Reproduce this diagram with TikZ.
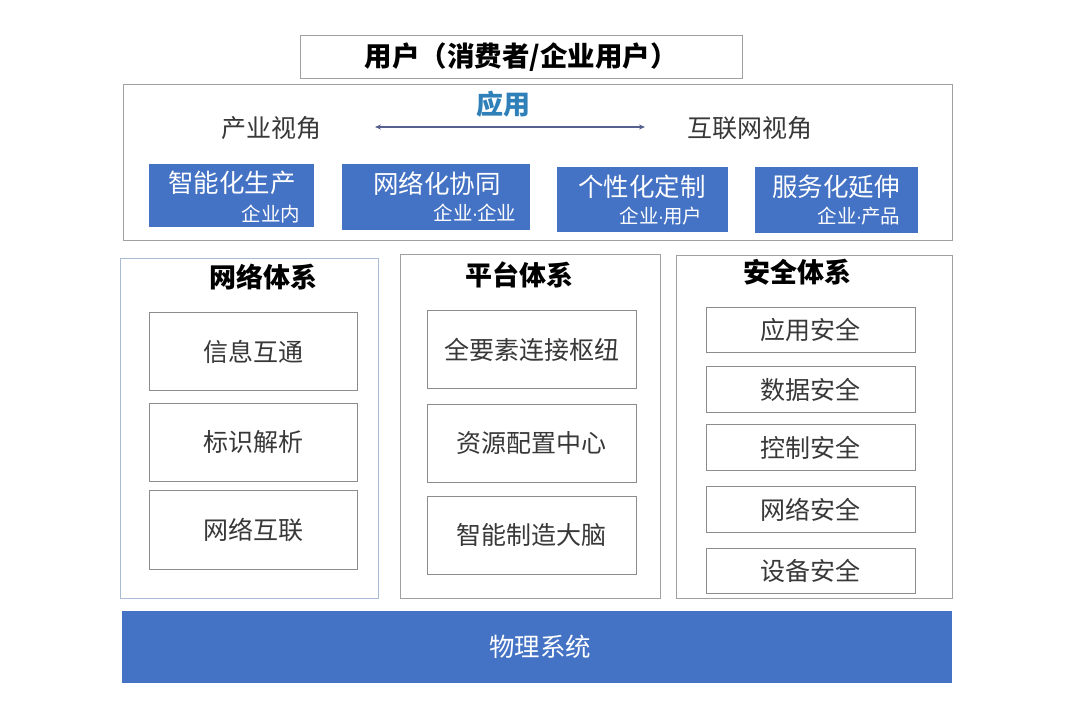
\documentclass[tikz,border=0pt]{standalone}
\usepackage{fontspec}
\setmainfont{Noto Sans CJK SC}
\newfontfamily\latinf{Liberation Sans}
\newcommand{\mdot}{{\latinf\kern-1pt·\kern-1pt}}
\usetikzlibrary{arrows.meta}
\definecolor{bluebox}{HTML}{4472C4}
\definecolor{appblue}{HTML}{2F7FB8}
\definecolor{frameblue}{HTML}{A9BCD4}
\definecolor{framegray}{HTML}{A0A0A0}
\definecolor{innergray}{HTML}{8C8C8C}
\definecolor{txt}{HTML}{383838}
\definecolor{arrowc}{HTML}{55608F}
\tikzset{
  panel/.style={draw=framegray, line width=0.9pt, fill=white},
  panelb/.style={draw=frameblue, line width=0.9pt, fill=white},
  item/.style={draw=innergray, line width=0.9pt, fill=white, text=txt, font=\fontsize{25}{27}\selectfont},
  appbox/.style={fill=bluebox, draw=none},
  apptitle/.style={text=white, font=\fontsize{25.5}{27}\selectfont},
  appsub/.style={text=white, font=\fontsize{19.5}{21}\selectfont},
  header/.style={text=black, font=\bfseries\fontsize{27}{29}\selectfont},
  view/.style={text=txt, font=\fontsize{25}{27}\selectfont},
}
\begin{document}
\begin{tikzpicture}[x=1pt,y=-1pt]
\useasboundingbox (0,0) rectangle (1080,716);
\fill[white] (0,0) rectangle (1080,716);
% user box
\node[panel, minimum width=442pt, minimum height=43pt, anchor=north west, text=black, font=\bfseries\fontsize{27.5}{29}\selectfont] (user) at (300,35) {用户（消费者/企业用户）};
% application panel
\node[panel, minimum width=829pt, minimum height=156pt, anchor=north west] (app) at (123,84) {};
\node[text=appblue, font=\bfseries\fontsize{27}{29}\selectfont] (apptxt) at (503,104) {应用};
\node[view] (ind) at (271,128) {产业视角};
\node[view] (net) at (750,128) {互联网视角};
\coordinate (al) at (375,127);
\coordinate (ar) at (645,127);
\draw[arrowc, line width=1.4pt, {Stealth[length=6pt,width=5pt]}-{Stealth[length=6pt,width=5pt]}] (al) -- (ar);
% blue app boxes
\node[appbox, minimum width=165pt, minimum height=63pt, anchor=north west] (b1) at (149,164) {};
\node[appbox, minimum width=188pt, minimum height=66pt, anchor=north west] (b2) at (342,164) {};
\node[appbox, minimum width=171pt, minimum height=65pt, anchor=north west] (b3) at (557,167) {};
\node[appbox, minimum width=163pt, minimum height=66pt, anchor=north west] (b4) at (755,167) {};
\node[apptitle] (t1) at (232,183) {智能化生产};
\node[appsub, anchor=east] (s1) at (304,214) {企业内};
\node[apptitle] (t2) at (437,184) {网络化协同};
\node[appsub, anchor=east] (s2) at (520,213) {企业\mdot 企业};
\node[apptitle] (t3) at (642,187) {个性化定制};
\node[appsub, anchor=east] (s3) at (706,216) {企业\mdot 用户};
\node[apptitle] (t4) at (836,187) {服务化延伸};
\node[appsub, anchor=east] (s4) at (904,216) {企业\mdot 产品};
% three columns
\node[panelb, minimum width=258pt, minimum height=340pt, anchor=north west] (colA) at (120,258) {};
\node[panel, minimum width=260pt, minimum height=344pt, anchor=north west] (colB) at (400,254) {};
\node[panel, minimum width=276pt, minimum height=343pt, anchor=north west] (colC) at (676,255) {};
\node[header] (hA) at (263,277) {网络体系};
\node[header] (hB) at (519,275) {平台体系};
\node[header] (hC) at (797,272) {安全体系};
% network items
\node[item, minimum width=208pt, minimum height=78pt, anchor=north west] (n1) at (149,312) {信息互通};
\node[item, minimum width=208pt, minimum height=78pt, anchor=north west] (n2) at (149,403) {标识解析};
\node[item, minimum width=208pt, minimum height=79pt, anchor=north west] (n3) at (149,490) {网络互联};
% platform items
\node[item, minimum width=209pt, minimum height=78pt, anchor=north west] (p1) at (427,310) {全要素连接枢纽};
\node[item, minimum width=209pt, minimum height=78pt, anchor=north west] (p2) at (427,404) {资源配置中心};
\node[item, minimum width=209pt, minimum height=78pt, anchor=north west] (p3) at (427,496) {智能制造大脑};
% security items
\node[item, minimum width=209pt, minimum height=45pt, anchor=north west] (c1) at (706,307) {应用安全};
\node[item, minimum width=209pt, minimum height=46pt, anchor=north west] (c2) at (706,366) {数据安全};
\node[item, minimum width=209pt, minimum height=46pt, anchor=north west] (c3) at (706,424) {控制安全};
\node[item, minimum width=209pt, minimum height=46pt, anchor=north west] (c4) at (706,486) {网络安全};
\node[item, minimum width=209pt, minimum height=45pt, anchor=north west] (c5) at (706,548) {设备安全};
% physical system
\node[appbox, minimum width=830pt, minimum height=72pt, anchor=north west] (phys) at (122,611) {};
\node[apptitle] (physt) at (540,647) {物理系统};
\end{tikzpicture}
\end{document}
